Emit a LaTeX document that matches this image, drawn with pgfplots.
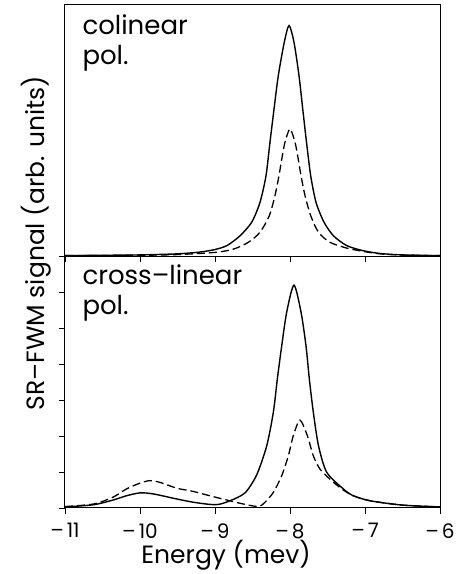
\documentclass[border=0pt]{standalone}
\usepackage{pgfplots}
\pgfplotsset{compat=1.18}
\usepackage{fontspec}
\setmainfont{Poppins}

\newcommand{\minusnum}[1]{–\hspace{3pt}#1}

\pgfplotsset{
  panel/.style={
    width=375pt, height=252pt, scale only axis,
    xmin=-11, xmax=-6, ymin=0, ymax=7,
    xtick={-11,-10,-9,-8,-7,-6},
    xtick pos=bottom, ytick pos=left,
    tick align=outside,
    major tick length=6pt,
    axis line style={line width=1pt},
    every tick/.style={line width=0.9pt, black},
    xticklabel style={font=\fontsize{20}{20}\selectfont, yshift=-6pt},
    clip=false,
  },
  sig/.style={black, line width=1.4pt, smooth, tension=0.45},
  sigdash/.style={black, line width=1.3pt, smooth, tension=0.45, dash pattern=on 8pt off 4pt},
}

\begin{document}
\begin{tikzpicture}
\useasboundingbox (-65pt,-318pt) rectangle (393pt,256pt);

% upper panel: colinear polarisation
\begin{axis}[panel, name=top, at={(0pt,0pt)}, anchor=south west,
  xticklabels={}, ytick=\empty]
\addplot[sig] coordinates {
 (-11,0.01) (-10.5,0.02) (-10,0.03) (-9.5,0.06) (-9.2,0.11) (-9.0,0.18)
 (-8.84,0.29) (-8.667,0.56) (-8.51,0.94) (-8.40,1.49) (-8.32,2.23)
 (-8.267,3.16) (-8.213,4.08) (-8.156,5.01) (-8.076,5.94) (-8.013,6.40)
 (-7.947,5.94) (-7.88,5.01) (-7.83,4.08) (-7.78,3.16) (-7.724,2.23)
 (-7.653,1.49) (-7.547,0.94) (-7.42,0.56) (-7.244,0.29) (-7.03,0.15)
 (-6.8,0.07) (-6.5,0.03) (-6.0,0.01)
};
\addplot[sigdash] coordinates {
 (-11,0.01) (-10.5,0.015) (-10,0.02) (-9.5,0.04) (-9.0,0.10)
 (-8.756,0.19) (-8.556,0.38) (-8.40,0.66) (-8.276,1.12) (-8.20,1.68)
 (-8.147,2.23) (-8.11,2.69) (-8.067,3.16) (-8.0,3.53)
 (-7.933,3.16) (-7.89,2.69) (-7.853,2.23) (-7.80,1.68) (-7.724,1.12)
 (-7.62,0.66) (-7.467,0.38) (-7.244,0.22) (-7.03,0.13)
 (-6.8,0.06) (-6.5,0.025) (-6.0,0.01)
};
\end{axis}

% lower panel: cross-linear polarisation
\begin{axis}[panel, name=bot, at={(0pt,0pt)}, anchor=north west,
  ytick={0,1,2,3,4,5,6,7}, yticklabels={},
  xticklabels={\minusnum{11},\minusnum{10},\minusnum{9},\minusnum{8},\minusnum{7},\minusnum{6}}]
\addplot[sig] coordinates {
 (-11,0.03) (-10.62,0.09) (-10.36,0.22) (-10.18,0.34) (-10.0,0.42)
 (-9.82,0.39) (-9.51,0.25) (-9.29,0.16) (-9.07,0.10) (-8.95,0.10)
 (-8.8,0.20) (-8.6,0.42) (-8.444,0.92) (-8.31,1.73) (-8.222,2.66)
 (-8.169,3.58) (-8.11,4.51) (-8.044,5.44) (-7.947,6.19)
 (-7.853,5.44) (-7.787,4.51) (-7.742,3.58) (-7.689,2.66) (-7.62,1.73)
 (-7.51,0.99) (-7.289,0.53) (-7.156,0.34) (-6.93,0.20)
 (-6.5,0.08) (-6.0,0.03)
};
\addplot[sigdash] coordinates {
 (-11,0.04) (-10.62,0.11) (-10.36,0.30) (-10.18,0.53) (-10.0,0.69)
 (-9.87,0.76) (-9.73,0.71) (-9.51,0.55) (-9.29,0.46) (-9.07,0.34)
 (-8.84,0.22) (-8.62,0.11) (-8.42,0.04) (-8.333,0.16) (-8.22,0.44)
 (-8.11,0.90) (-8.022,1.45) (-7.956,2.01) (-7.867,2.44)
 (-7.769,2.01) (-7.689,1.45) (-7.6,1.08) (-7.467,0.80) (-7.311,0.53)
 (-7.156,0.34) (-6.93,0.20) (-6.5,0.08) (-6.0,0.03)
};
\end{axis}

\node[anchor=base west, font=\fontsize{26}{26}\selectfont] at (14pt,222pt) {colinear};
\node[anchor=base west, font=\fontsize{26}{26}\selectfont] at (14pt,192pt) {pol.};
\node[anchor=base west, font=\fontsize{26}{26}\selectfont] at (14pt,-28pt) {cross–linear};
\node[anchor=base west, font=\fontsize{26}{26}\selectfont] at (14pt,-58pt) {pol.};

\node[anchor=base, font=\fontsize{25}{25}\selectfont] at (161pt,-307pt) {Energy (mev)};
\node[anchor=base, rotate=90, font=\fontsize{25}{25}\selectfont] at (-20pt,13pt) {SR–FWM signal (arb. units)};
\end{tikzpicture}
\end{document}
